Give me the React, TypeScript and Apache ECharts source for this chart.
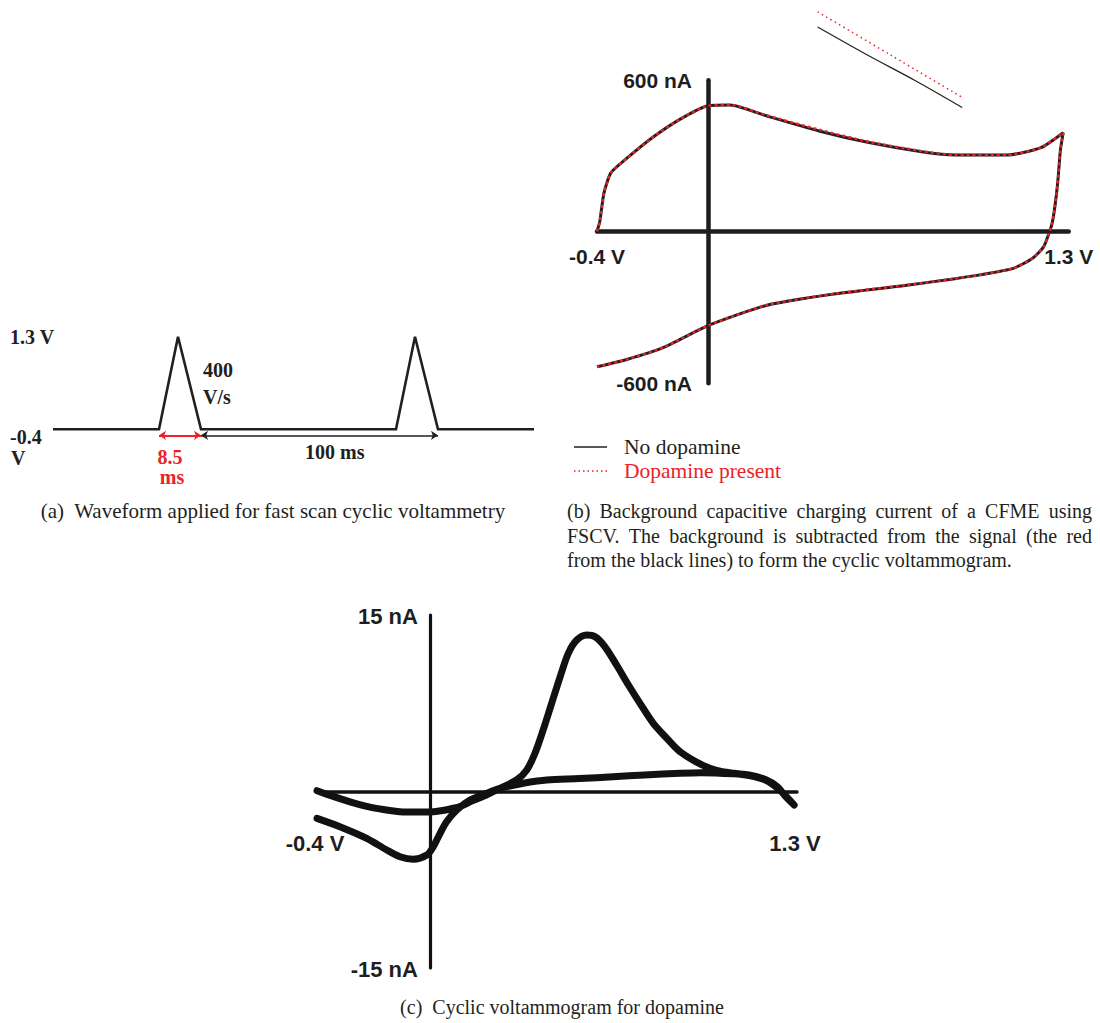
import React, { useEffect, useRef } from "react";
import * as echarts from "echarts";

// ---------- Panel (a): FSCV waveform (schematic time units) ----------
const waveT = [0, 106, 125, 148, 343, 362, 385, 481];
const waveV = [-0.4, -0.4, 1.3, -0.4, -0.4, 1.3, -0.4, -0.4];
const pulseSpanT = [106, 148]; // 8.5 ms
const periodSpanT = [148, 385]; // 100 ms
const arrowLevelV = -0.51;

// ---------- Panel (b): background current (V, nA) ----------
const bV = [
  -0.4, -0.39, -0.375, -0.35, -0.29, -0.2, -0.1, 0.0, 0.08, 0.21, 0.4, 0.58, 0.77, 0.89, 1.08, 1.2, 1.28,
  1.27, 1.26, 1.25, 1.24, 1.23, 1.21, 1.17, 1.1, 0.98, 0.89, 0.71, 0.46, 0.21, 0.0, -0.16, -0.29, -0.4,
];
const bNoDopI = [
  1, 40, 153, 233, 293, 373, 446, 499, 502, 459, 399, 353, 317, 304, 304, 333, 392,
  324, 192, 99, 33, -2, -59, -105, -145, -171, -186, -213, -246, -292, -372, -458, -505, -535,
];
const bDopI = [
  1, 40, 153, 233, 293, 373, 446, 499, 502, 461, 404, 356, 319, 304, 304, 333, 392,
  324, 192, 99, 33, -2, -59, -105, -145, -171, -186, -212, -245, -291, -372, -458, -505, -535,
];
const bInsetBlackV = [0.395, 0.581, 0.746, 0.916];
const bInsetBlackI = [811, 696, 599, 492];
const bInsetRedV = [0.395, 0.656, 0.916];
const bInsetRedI = [871, 701, 532];
const bTickV = [-0.4, 1.3];
const bTickI = [600, -600];

// ---------- Panel (c): dopamine cyclic voltammogram (V, nA) ----------
// forward scan (-0.4 -> 1.3 V)
const cFwdV = [
  -0.4, -0.34, -0.28, -0.22, -0.16, -0.106, -0.05, 0.012, 0.06, 0.106, 0.15, 0.2, 0.248, 0.307, 0.343, 0.372,
  0.401, 0.431, 0.461, 0.49, 0.52, 0.555, 0.585, 0.62, 0.661, 0.703, 0.744, 0.791, 0.839, 0.886, 0.96, 1.015,
  1.075, 1.13, 1.19, 1.23, 1.26, 1.29,
];
const cFwdI = [
  0.07, -0.44, -0.9, -1.29, -1.55, -1.72, -1.75, -1.72, -1.55, -1.29, -0.8, -0.3, 0.27, 0.98, 1.83, 3.25,
  5.23, 7.49, 9.75, 11.74, 12.87, 13.3, 13.15, 12.3, 10.75, 9.05, 7.49, 5.79, 4.52, 3.38, 2.3, 1.8,
  1.55, 1.4, 1.0, 0.41, -0.44, -1.15,
];
// reverse scan (1.3 -> -0.4 V)
const cRevV = [
  1.24, 1.19, 1.13, 1.075, 0.96, 0.886, 0.76, 0.649, 0.53, 0.414, 0.34, 0.272, 0.248, 0.201, 0.142, 0.095,
  0.059, 0.036, 0.012, -0.011, -0.059, -0.106, -0.153, -0.224, -0.319, -0.4,
];
const cRevI = [
  0.1, 0.95, 1.35, 1.5, 1.6, 1.55, 1.4, 1.26, 1.1, 0.98, 0.75, 0.41, 0.27, -0.15, -0.72, -1.57,
  -2.57, -3.55, -4.69, -5.4, -5.76, -5.54, -4.97, -3.98, -2.99, -2.28,
];
const cTickV = [-0.4, 1.3];
const cTickI = [15, -15];

// ---------- Texts ----------
const captionA = "(a)  Waveform applied for fast scan cyclic voltammetry";
const captionB = [
  "(b)  Background capacitive charging current of a CFME using",
  "FSCV. The background is subtracted from the signal (the red",
  "from the black lines) to form the cyclic voltammogram.",
];
const captionC = "(c)  Cyclic voltammogram for dopamine";
const legendNames = ["No dopamine", "Dopamine present"];

const SERIF = '"Liberation Serif", "Times New Roman", serif';
const SANS = '"Liberation Sans", Arial, sans-serif';
const INK = "#231f20";
const RED = "#ec2227";

const zip = (xs: number[], ys: number[]) => xs.map((x, i) => [x, ys[i]]);

function txt(t: string, x: number, y: number, o: any = {}) {
  const align = o.align || "left";
  return {
    type: "text",
    x,
    y,
    silent: true,
    style: {
      text: t,
      fill: o.fill || INK,
      fontSize: o.size || 20,
      fontFamily: o.family || SERIF,
      fontWeight: o.weight || "normal",
      align,
      verticalAlign: "middle",
      textAlign: align,
      textVerticalAlign: "middle",
    },
  };
}

function justified(line: string, x0: number, x1: number, y: number, size: number) {
  const ctx = document.createElement("canvas").getContext("2d")!;
  ctx.font = `${size}px ${SERIF}`;
  const words = line.split(/\s+/);
  const ws = words.map((w) => ctx.measureText(w).width);
  const total = ws.reduce((a, b) => a + b, 0);
  const gap = (x1 - x0 - total) / (words.length - 1);
  let x = x0;
  return words.map((w, i) => {
    const el = txt(w, x, y, { size });
    x += ws[i] + gap;
    return el;
  });
}

export default function App() {
  const ref = useRef<HTMLDivElement>(null);
  useEffect(() => {
    if (!ref.current) return;
    const chart = echarts.init(ref.current, null, { renderer: "svg", width: 1100, height: 1023 });

    const crossAxis = (width: number, color: string) => ({
      type: "value",
      axisLine: { show: true, onZero: true, lineStyle: { color, width } },
      axisTick: { show: false },
      splitLine: { show: false },
      axisLabel: { show: false },
    });

    const graphicBase: any[] = [
      // panel (a) labels
      txt("1.3 V", 10, 337, { weight: "bold" }),
      txt("400", 203, 370, { weight: "bold" }),
      txt("V/s", 203, 397, { weight: "bold" }),
      txt("-0.4", 10, 437, { weight: "bold" }),
      txt("V", 11, 458, { weight: "bold" }),
      txt("8.5", 170, 457, { weight: "bold", fill: RED, align: "center" }),
      txt("ms", 172, 477, { weight: "bold", fill: RED, align: "center" }),
      txt("100 ms", 305, 452, { weight: "bold" }),
      txt(captionA, 273, 511, { align: "center", size: 21 }),
      // panel (b) legend
      { type: "line", silent: true, shape: { x1: 574, y1: 447, x2: 607, y2: 447 }, style: { stroke: INK, lineWidth: 1.5 } },
      { type: "line", silent: true, shape: { x1: 574, y1: 471, x2: 607, y2: 471 }, style: { stroke: RED, lineWidth: 1.5, lineDash: [1.5, 3] } },
      txt(legendNames[0], 624, 447, { size: 21.5 }),
      txt(legendNames[1], 624, 471, { fill: RED, size: 21.5 }),
      // panel (b) caption (justified)
      ...justified(captionB[0], 567, 1092, 511, 20),
      ...justified(captionB[1], 567, 1092, 535.5, 20),
      txt(captionB[2], 567, 560),
      // panel (c) caption
      txt(captionC, 562, 1007, { align: "center" }),
    ];

    const option: any = {
      animation: false,
      backgroundColor: "#ffffff",
      tooltip: { show: false },
      grid: [
        { left: 53, top: 336.7, width: 481, height: 92.6, containLabel: false, outerBoundsMode: "none" },
        { left: 597, top: 80.2, width: 471.75, height: 303, containLabel: false, outerBoundsMode: "none" },
        { left: 317, top: 615, width: 480, height: 353, containLabel: false, outerBoundsMode: "none" },
      ],
      xAxis: [
        { gridIndex: 0, type: "value", min: 0, max: 481, show: false },
        { gridIndex: 1, min: -0.4, max: 1.3, ...crossAxis(4.5, "#1e1e1e") },
        { gridIndex: 2, min: -0.4, max: 1.3, ...crossAxis(3.5, "#111") },
      ],
      yAxis: [
        { gridIndex: 0, type: "value", min: -0.4, max: 1.3, show: false },
        { gridIndex: 1, min: -600, max: 600, ...crossAxis(4.5, "#1e1e1e") },
        { gridIndex: 2, min: -15, max: 15, ...crossAxis(3.2, "#111") },
      ],
      series: [
        {
          name: "waveform",
          type: "line",
          xAxisIndex: 0,
          yAxisIndex: 0,
          data: zip(waveT, waveV),
          symbol: "none",
          clip: false,
          lineStyle: { color: INK, width: 2.6, join: "miter" },
        },
        {
          name: "pulse width",
          type: "lines",
          coordinateSystem: "cartesian2d",
          xAxisIndex: 0,
          yAxisIndex: 0,
          symbol: ["arrow", "arrow"],
          symbolSize: 7,
          clip: false,
          lineStyle: { color: RED, width: 2, opacity: 1 },
          data: [{ coords: [[pulseSpanT[0], arrowLevelV], [pulseSpanT[1], arrowLevelV]] }],
        },
        {
          name: "period",
          type: "lines",
          coordinateSystem: "cartesian2d",
          xAxisIndex: 0,
          yAxisIndex: 0,
          symbol: ["arrow", "arrow"],
          symbolSize: 7,
          clip: false,
          lineStyle: { color: INK, width: 1.6, opacity: 1 },
          data: [{ coords: [[periodSpanT[0], arrowLevelV], [periodSpanT[1], arrowLevelV]] }],
        },
        {
          name: legendNames[0],
          type: "line",
          xAxisIndex: 1,
          yAxisIndex: 1,
          data: zip(bV, bNoDopI),
          symbol: "none",
          smooth: 0.2,
          clip: false,
          lineStyle: { color: INK, width: 3 },
        },
        {
          name: legendNames[1],
          type: "line",
          xAxisIndex: 1,
          yAxisIndex: 1,
          data: zip(bV, bDopI),
          symbol: "none",
          smooth: 0.2,
          clip: false,
          lineStyle: { color: RED, width: 2.4, type: [3, 3] },
        },
        {
          name: "inset no dopamine",
          type: "line",
          xAxisIndex: 1,
          yAxisIndex: 1,
          data: zip(bInsetBlackV, bInsetBlackI),
          symbol: "none",
          smooth: 0.3,
          clip: false,
          lineStyle: { color: INK, width: 1.2 },
        },
        {
          name: "inset dopamine",
          type: "line",
          xAxisIndex: 1,
          yAxisIndex: 1,
          data: zip(bInsetRedV, bInsetRedI),
          symbol: "none",
          smooth: 0.3,
          clip: false,
          lineStyle: { color: RED, width: 1.5, type: [1.5, 3.5] },
        },
        {
          name: "dopamine CV",
          type: "line",
          xAxisIndex: 2,
          yAxisIndex: 2,
          data: [...zip(cFwdV, cFwdI), ...zip(cRevV, cRevI)],
          symbol: "none",
          smooth: 0.3,
          clip: false,
          lineStyle: { color: "#111", width: 7, cap: "round", join: "round" },
        },
      ],
      graphic: graphicBase,
    };
    chart.setOption(option);

    // axis end labels, anchored to the data positions through the grids' scales
    const px = (gi: number, v: number[]) => chart.convertToPixel({ gridIndex: gi } as any, v) as number[];
    const sansLbl = (t: string, x: number, y: number, size: number, align: string) =>
      txt(t, x, y, { family: SANS, weight: "bold", size, align, fill: "#1e1e1e" });
    const tickLabels: any[] = [];
    bTickV.forEach((v) => {
      const [x, y] = px(1, [v, 0]);
      tickLabels.push(sansLbl(`${v} V`, x, y + 25, 21, "center"));
    });
    bTickI.forEach((v) => {
      const [x, y] = px(1, [0, v]);
      tickLabels.push(sansLbl(`${v} nA`, x - 16, y, 21, "right"));
    });
    cTickV.forEach((v) => {
      const [x, y] = px(2, [v, 0]);
      tickLabels.push(sansLbl(`${v} V`, x - 2, y + 52, 22, "center"));
    });
    cTickI.forEach((v) => {
      const [x, y] = px(2, [0, v]);
      tickLabels.push(sansLbl(`${v} nA`, x - 12, y + 1, 22, "right"));
    });
    chart.setOption({ graphic: [...graphicBase, ...tickLabels] });

    return () => chart.dispose();
  }, []);

  return (
    <div
      ref={ref}
      style={{ position: "absolute", left: 0, top: 0, width: 1100, height: 1023, background: "#fff" }}
    />
  );
}
